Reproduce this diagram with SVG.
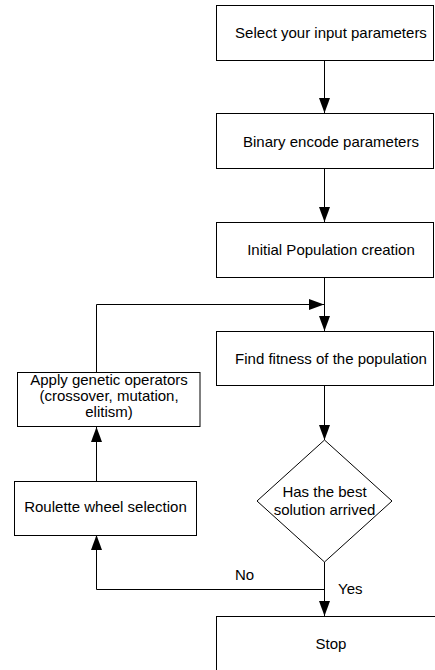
<svg xmlns="http://www.w3.org/2000/svg" width="435" height="670" viewBox="0 0 435 670">
<style>
.box{fill:#fff;stroke:#000;stroke-width:1}
.ln{fill:none;stroke:#000;stroke-width:1}
.t{font-family:"Liberation Sans",Arial,sans-serif;font-size:15px;fill:#000;text-anchor:middle}
.lbl{font-family:"Liberation Sans",Arial,sans-serif;font-size:15px;fill:#000}
</style>
<defs>
<marker id="ah" markerUnits="userSpaceOnUse" markerWidth="15" markerHeight="11" refX="15" refY="5.5" orient="auto">
<path d="M0,0 L15,5.5 L0,11 z" fill="#000"/>
</marker>
</defs>
<rect width="435" height="670" fill="#fff"/>
<g id="connectors">
<path class="ln" d="M324.5,60 V113" marker-end="url(#ah)"/>
<path class="ln" d="M324.5,168 V222" marker-end="url(#ah)"/>
<path class="ln" d="M324.5,277 V331" marker-end="url(#ah)"/>
<path class="ln" d="M96.5,372 V304.5 H324" marker-end="url(#ah)"/>
<path class="ln" d="M324.5,385 V440" marker-end="url(#ah)"/>
<path class="ln" d="M324.5,562 V616" marker-end="url(#ah)"/>
<path class="ln" d="M324.5,589.5 H96.5 V535" marker-end="url(#ah)"/>
<path class="ln" d="M96.5,481 V427" marker-end="url(#ah)"/>
<text class="lbl" x="235" y="579.5">No</text>
<text class="lbl" x="338" y="594">Yes</text>
</g>
<g id="select">
<rect class="box" x="216.5" y="5.5" width="217" height="55"/>
<text class="t" x="331" y="38.3">Select your input parameters</text>
</g>
<g id="binary">
<rect class="box" x="216.5" y="113.5" width="217" height="55"/>
<text class="t" x="331" y="147">Binary encode parameters</text>
</g>
<g id="initial">
<rect class="box" x="216.5" y="222.5" width="217" height="55"/>
<text class="t" x="331" y="254.5">Initial Population creation</text>
</g>
<g id="fitness">
<rect class="box" x="216.5" y="331.5" width="217" height="54"/>
<text class="t" x="331" y="363.5">Find fitness of the population</text>
</g>
<g id="decision">
<polygon class="box" points="324.5,440 392,501 324.5,562 257,501"/>
<text class="t" x="324.5" y="496.5">Has the best</text>
<text class="t" x="324.5" y="514.5">solution arrived</text>
</g>
<g id="stop">
<rect class="box" x="216.5" y="616.5" width="230" height="55"/>
<text class="t" x="331" y="648.5">Stop</text>
</g>
<g id="apply">
<rect class="box" x="17.5" y="372.5" width="182.5" height="54"/>
<text class="t" x="109" y="385">Apply genetic operators</text>
<text class="t" x="109" y="401">(crossover, mutation,</text>
<text class="t" x="109" y="416.5">elitism)</text>
</g>
<g id="roulette">
<rect class="box" x="14.5" y="481.5" width="182" height="54"/>
<text class="t" x="105.5" y="512.3">Roulette wheel selection</text>
</g>
</svg>
